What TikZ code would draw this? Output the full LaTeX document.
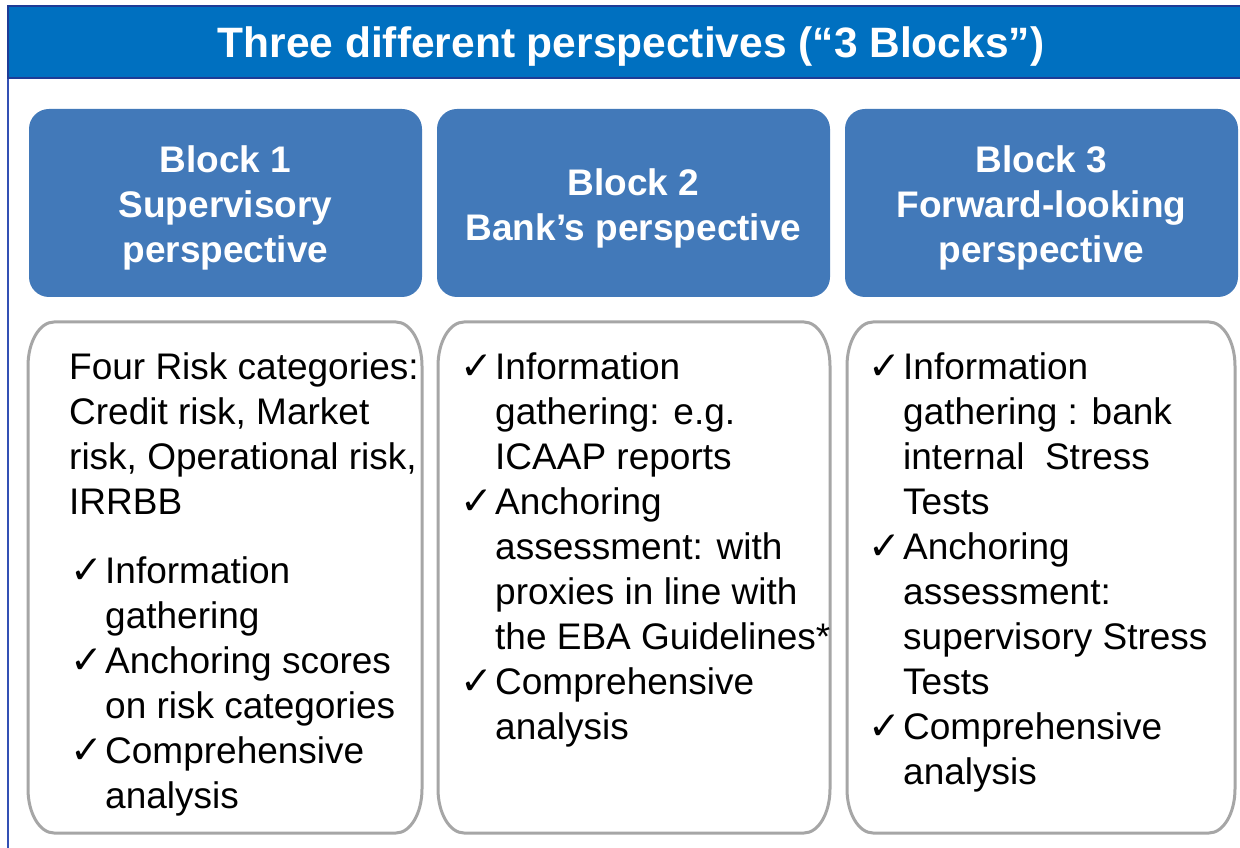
\documentclass[tikz,border=0pt]{standalone}
\usepackage{fontspec}
\setmainfont{Liberation Sans}
\newfontfamily\ckfont{DejaVu Sans}
\definecolor{hdrblue}{RGB}{0,112,192}
\definecolor{hdrline}{RGB}{30,60,150}
\definecolor{framec}{RGB}{50,80,180}
\definecolor{blkblue}{RGB}{66,121,185}
\definecolor{boxgray}{RGB}{166,166,166}
\newcommand\ck{\makebox[36pt][l]{\hspace{1pt}\ckfont\fontsize{39}{45}\selectfont ✓}}
\newcommand\nock{\makebox[36pt][l]{}}
\newcommand\mylowbox[2]{%
  \draw[lowbox] (#1+26,525) -- (#2-26,525)
    arc[start angle=90,end angle=0,x radius=26,y radius=44]
    -- (#2,58)
    arc[start angle=0,end angle=-90,x radius=26,y radius=44]
    -- (#1+26,14)
    arc[start angle=270,end angle=180,x radius=26,y radius=44]
    -- (#1,481)
    arc[start angle=180,end angle=90,x radius=26,y radius=44]
    -- cycle;}
\begin{document}
\begin{tikzpicture}[x=1pt,y=1pt,
  blk/.style={fill=blkblue, draw=none, rounded corners=20pt, minimum width=393pt, minimum height=188pt, inner sep=0pt},
  blktxt/.style={text=white, font=\bfseries\fontsize{37}{45}\selectfont, align=center, inner sep=0pt},
  lowbox/.style={draw=boxgray, line width=3pt, fill=white},
  body/.style={anchor=base west, inner sep=0pt, font=\fontsize{37}{45}\selectfont}]
\useasboundingbox (0,0) rectangle (1240,847);
\clip (0,0) rectangle (1240,847);
% frame and header
\draw[draw=framec, line width=1.5pt, fill=white] (8,-10) rectangle (1260,841);
\draw[fill=hdrblue, draw=hdrline, line width=1.2pt] (8,769) rectangle (1260,841);
\node[font=\bfseries\fontsize{42.5}{50}\selectfont, text=white, anchor=base, inner sep=0pt] (title) at (631,789) {Three different perspectives (“3 Blocks”)};
% block headers
\node[blk] (b1) at (225.5,644) {};
\node[blk] (b2) at (633.5,644) {};
\node[blk] (b3) at (1041.5,644) {};
\node[blktxt] (t1) at ([yshift=-5pt]b1.center) {Block 1\\Supervisory\\perspective};
\node[blktxt] (t2) at ([yshift=-5pt]b2.center) {Block 2\\Bank’s perspective};
\node[blktxt] (t3) at ([yshift=-5pt]b3.center) {Block 3\\Forward-looking\\perspective};
% lower boxes
\mylowbox{28}{422}
\mylowbox{438}{830}
\mylowbox{847}{1235}
% body texts
\node[body] (c1) at (69,467) {\begin{tabular}[t]{@{}l@{}l@{}}
\multicolumn{2}{@{}l@{}}{Four Risk categories:}\\
\multicolumn{2}{@{}l@{}}{Credit risk, Market}\\
\multicolumn{2}{@{}l@{}}{risk, Operational risk,}\\
\multicolumn{2}{@{}l@{}}{IRRBB}\\[24pt]
\ck & Information\\
\nock & gathering\\
\ck & Anchoring scores\\
\nock & on risk categories\\
\ck & Comprehensive\\
\nock & analysis
\end{tabular}};
\node[body] (c2) at (459,467) {\begin{tabular}[t]{@{}l@{}l@{}}
\ck & Information\\
\nock & gathering: e.g.\\
\nock & ICAAP reports\\
\ck & Anchoring\\
\nock & assessment: with\\
\nock & proxies in line with\\
\nock & the EBA Guidelines*\\
\ck & Comprehensive\\
\nock & analysis
\end{tabular}};
\node[body] (c3) at (867,467) {\begin{tabular}[t]{@{}l@{}l@{}}
\ck & Information\\
\nock & gathering : bank\\
\nock & internal\ \ Stress\\
\nock & Tests\\
\ck & Anchoring\\
\nock & assessment:\\
\nock & supervisory Stress\\
\nock & Tests\\
\ck & Comprehensive\\
\nock & analysis
\end{tabular}};
\end{tikzpicture}
\end{document}
